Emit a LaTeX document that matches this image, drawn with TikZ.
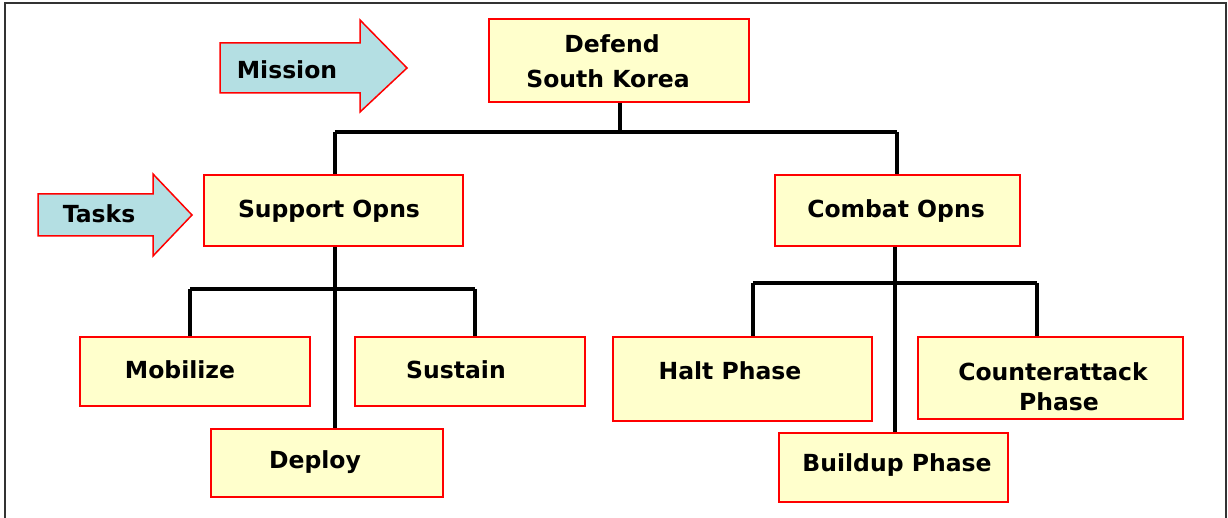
\documentclass[tikz,border=0pt]{standalone}
\usepackage{fontspec}
\setmainfont{DejaVu Sans}
\begin{document}
\begin{tikzpicture}[x=1pt,y=-1pt,
  box/.style={draw=red,fill={rgb,255:red,255;green,255;blue,204},line width=1.6pt,inner sep=0pt},
  lbl/.style={font=\bfseries\fontsize{23.5}{35}\selectfont,inner sep=0pt,align=center},
  wire/.style={line width=3.2pt,black},
  bigarrow/.style={draw=red,fill={rgb,255:red,180;green,223;blue,227},line width=1.5pt,line join=miter}]
\useasboundingbox (0,0) rectangle (1228,518);
\fill[white] (0,0) rectangle (1228,518);
% frame
\draw[line width=2.6pt,black!80] (5,520) -- (5,3) -- (1226,3) -- (1226,520);
% boxes
\node[box,minimum width=260pt,minimum height=83pt] (defend) at (619,60.5) {};
\node[box,minimum width=259pt,minimum height=71pt] (support) at (333.5,210.5) {};
\node[box,minimum width=245pt,minimum height=71pt] (combat) at (897.5,210.5) {};
\node[box,minimum width=230pt,minimum height=69pt] (mobilize) at (195,371.5) {};
\node[box,minimum width=230pt,minimum height=69pt] (sustain) at (470,371.5) {};
\node[box,minimum width=232pt,minimum height=68pt] (deploy) at (327,463) {};
\node[box,minimum width=259pt,minimum height=84pt] (halt) at (742.5,379) {};
\node[box,minimum width=265pt,minimum height=82pt] (counter) at (1050.5,378) {};
\node[box,minimum width=229pt,minimum height=69pt] (buildup) at (893.5,467.5) {};
% texts
\node[lbl] (tdefend) at (608,61) {\hspace*{8pt}Defend\\South Korea};
\node[lbl] (tsupport) at (329,211) {Support Opns};
\node[lbl] (tcombat) at (896,211) {Combat Opns};
\node[lbl] (tmobilize) at (180,370) {Mobilize};
\node[lbl] (tsustain) at (456,370) {Sustain};
\node[lbl] (tdeploy) at (315,462) {Deploy};
\node[lbl] (thalt) at (730,371) {Halt Phase};
\node[lbl,font=\bfseries\fontsize{23.5}{30}\selectfont] (tcounter) at (1053,387) {Counterattack\\\hspace*{12pt}Phase};
\node[lbl] (tbuildup) at (897,465) {Buildup Phase};
% connectors
\coordinate (j0) at (620,132);
\coordinate (j0l) at (335,132);
\coordinate (j0r) at (897,132);
\draw[wire] (defend.south -| j0) -- (j0);
\draw[wire] (j0l) -- (j0r);
\draw[wire] (j0l) -- (j0l |- support.north);
\draw[wire] (j0r) -- (j0r |- combat.north);
\coordinate (s1) at (335,289);
\coordinate (s1l) at (190,289);
\coordinate (s1r) at (475,289);
\draw[wire] (s1 |- support.south) -- (s1 |- deploy.north);
\draw[wire] (s1l) -- (s1r);
\draw[wire] (s1l) -- (s1l |- mobilize.north);
\draw[wire] (s1r) -- (s1r |- sustain.north);
\coordinate (c1) at (895,283);
\coordinate (c1l) at (753,283);
\coordinate (c1r) at (1037,283);
\draw[wire] (c1 |- combat.south) -- (c1 |- buildup.north);
\draw[wire] (c1l) -- (c1r);
\draw[wire] (c1l) -- (c1l |- halt.north);
\draw[wire] (c1r) -- (c1r |- counter.north);
% big arrows
\draw[bigarrow] (220,43) -- (360,43) -- (360,20) -- (407,68) -- (360,112) -- (360,93) -- (220,93) -- cycle;
\node[lbl] (mission) at (287,70) {Mission};
\draw[bigarrow] (38,194) -- (153,194) -- (153,174) -- (192,215) -- (153,256) -- (153,236) -- (38,236) -- cycle;
\node[lbl] (tasks) at (99,214) {Tasks};
\end{tikzpicture}
\end{document}
